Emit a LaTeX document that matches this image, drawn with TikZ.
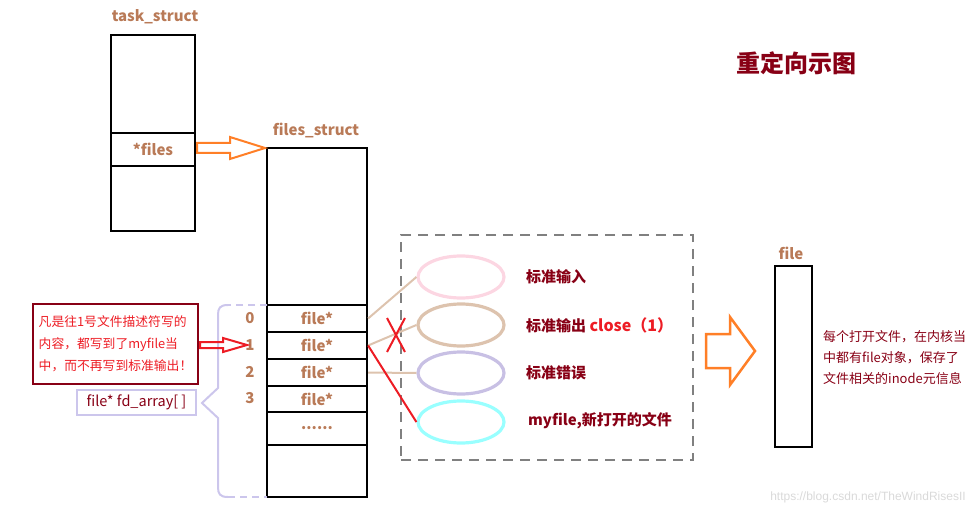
\documentclass[tikz,border=0pt]{standalone}
\usepackage{fontspec}
\setmainfont{Noto Sans CJK SC}
\newfontfamily\wmfont{Liberation Sans}
\usetikzlibrary{shapes.geometric}
\definecolor{tan}{HTML}{B97A57}
\definecolor{orng}{HTML}{FF7F27}
\definecolor{rd}{HTML}{ED1C24}
\definecolor{drd}{HTML}{880015}
\definecolor{lav}{HTML}{CCC6EC}
\definecolor{epink}{HTML}{FCD6E2}
\definecolor{etan}{HTML}{DDC3AE}
\definecolor{elav}{HTML}{C8C0E4}
\definecolor{ecyan}{HTML}{99FFFF}
\tikzset{
  cell/.style={draw=black, line width=2.2pt, inner sep=0pt, minimum width=#1},
  lbl/.style={text=tan, font=\fontsize{15}{17}\selectfont\bfseries, inner sep=0pt},
  ell/.style={draw=#1, ellipse, line width=3.2pt, minimum width=86pt, minimum height=42pt, inner sep=0pt},
  etext/.style={text=drd, font=\fontsize{15}{17}\selectfont\bfseries, anchor=west, inner sep=0pt},
  link/.style={draw=etan, line width=2pt},
  hollow/.style={draw=#1, line width=2pt, line join=miter},
}
\begin{document}
\begin{tikzpicture}[x=1pt,y=-1pt]
\useasboundingbox (0,0) rectangle (977,508);
% title
\node[text=drd, font=\fontsize{24}{26}\selectfont\bfseries, inner sep=0pt] (title) at (796,63) {重定向示图};
% task_struct
\node[lbl] (tasklbl) at (155,17) {task\_struct};
\node[cell=84pt, minimum height=98pt] (ttop) at (153,84) {};
\node[cell=84pt, minimum height=33pt, lbl] (tfiles) at (153,149.5) {*files};
\node[cell=84pt, minimum height=65pt] (tbot) at (153,198.5) {};
% files_struct
\node[lbl] (fslbl) at (316,130) {files\_struct};
\node[cell=100pt, minimum height=157pt] (ftop) at (317,226.5) {};
\node[cell=100pt, minimum height=27pt, lbl] (r0) at (317,318.5) {file*};
\node[cell=100pt, minimum height=27pt, lbl] (r1) at (317,345.5) {file*};
\node[cell=100pt, minimum height=27pt, lbl] (r2) at (317,372.5) {file*};
\node[cell=100pt, minimum height=26pt, lbl] (r3) at (317,399) {file*};
\node[cell=100pt, minimum height=33pt, lbl] (rdots) at (317,428.5) {......};
\node[cell=100pt, minimum height=52pt] (fbot) at (317,471) {};
% indices
\node[lbl] (i0) at (250,318) {0};
\node[lbl] (i1) at (250,345) {1};
\node[lbl] (i2) at (250,372) {2};
\node[lbl] (i3) at (250,398) {3};
% orange arrow task->files_struct
\draw[hollow=orng] (197,143) -- (230,143) -- (230,137) -- (265,148) -- (230,159) -- (230,153) -- (197,153) -- cycle;
% brace
\draw[draw=lav, line width=2pt, dash pattern=on 7pt off 5pt] (267,305) -- (228,305);
\draw[draw=lav, line width=2pt] (228,305) .. controls (220,305) and (218,308) .. (218,315) -- (218,388) -- (202,403) -- (218,418) -- (218,487) .. controls (218,494) and (220,497) .. (228,497);
\draw[draw=lav, line width=2pt, dash pattern=on 7pt off 5pt] (228,497) -- (267,497);
% fd_array label
\node[draw=lav, line width=2pt, text=drd, font=\fontsize{14.5}{16}\selectfont, minimum width=119pt, minimum height=25pt, inner sep=0pt] (fdarr) at (136.5,402.5) {file* fd\_array[ ]};
% note
\node[draw=drd, line width=2.5pt, text=rd, font=\fontsize{12.8}{22}\selectfont, align=left, minimum width=165pt, minimum height=80pt, inner sep=0pt] (note) at (115.5,344) {凡是往1号文件描述符写的\\内容，都写到了myfile当\\中，而不再写到标准输出！};
\draw[hollow=rd] (200,342) -- (223,342) -- (223,338) -- (247,345) -- (223,352) -- (223,348) -- (200,348) -- cycle;
% dashed box
\node[draw=black!50, line width=2pt, dash pattern=on 10pt off 7pt, minimum width=292pt, minimum height=225pt, inner sep=0pt] (dbox) at (547,347.5) {};
% ellipses
\node[ell=epink] (e1) at (461,277) {};
\node[ell=etan] (e2) at (461,325) {};
\node[ell=elav] (e3) at (461,373) {};
\node[ell=ecyan] (e4) at (461,422) {};
% links
\draw[link] (r0.east) -- (e1.west);
\draw[link] (r1.east) -- (e2.west);
\draw[link] (r2.east) -- (e3.west);
\draw[draw=rd, line width=2pt] (r1.east) -- (e4.west);
% red X
\coordinate (xc) at (396,335);
\draw[draw=rd, line width=2pt] ([shift={(-9,-17)}]xc) -- ([shift={(9,17)}]xc);
\draw[draw=rd, line width=2pt] ([shift={(9,-17)}]xc) -- ([shift={(-9,17)}]xc);
% ellipse texts
\node[etext] (t1) at (526,277) {标准输入};
\node[etext] (t2) at (526,325) {标准输出 \textcolor{rd}{\fontsize{16}{18}\selectfont close（1）}};
\node[etext] (t3) at (526,373) {标准错误};
\node[etext] (t4) at (528,421) {myfile,新打开的文件};
% big orange arrow
\draw[hollow=orng, line width=2.5pt] (706,334) -- (730,334) -- (730,317) -- (755,351) -- (730,385) -- (730,368) -- (706,368) -- cycle;
% file box
\node[lbl] (filelbl) at (791,253) {file};
\node[cell=37pt, minimum height=181pt] (filebox) at (793.5,356.5) {};
% description
\node[text=drd, font=\fontsize{13}{21}\selectfont, align=left, anchor=west, inner sep=0pt] (desc) at (823,358) {每个打开文件，在内核当\\中都有file对象，保存了\\文件相关的inode元信息};
% watermark
\node[text=black!15, font=\wmfont\fontsize{12}{14}\selectfont, inner sep=0pt] (wm) at (868,497) {https://blog.csdn.net/TheWindRisesII};
\end{tikzpicture}
\end{document}
